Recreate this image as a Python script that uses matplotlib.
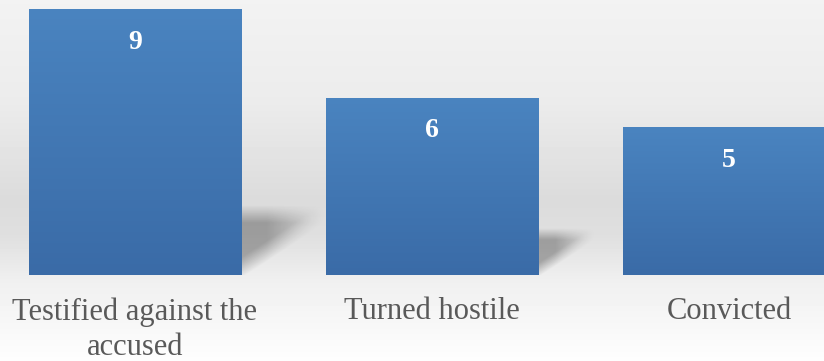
import numpy as np
import matplotlib
matplotlib.use('Agg')
import matplotlib.pyplot as plt
from matplotlib.colors import LinearSegmentedColormap

categories = ['Testified against the\naccused', 'Turned hostile', 'Convicted']
values = [9, 6, 5]

plt.rcParams['font.family'] = ['Liberation Serif', 'DejaVu Serif']

fig = plt.figure(figsize=(8.24, 3.61), dpi=100)

# background: soft grey gradient with a darker "horizon" band
bg = fig.add_axes([0, 0, 1, 1], zorder=0)
bg.axis('off')
stops_y = [0, 100, 200, 235, 280, 361]
stops_v = [0.95, 0.925, 0.86, 0.875, 0.94, 0.995]
col = np.interp(np.arange(361), stops_y, stops_v)
bg.imshow(np.repeat(col[:, None], 2, axis=1), cmap='gray', vmin=0, vmax=1,
          aspect='auto', extent=[0, 1, 0, 1], origin='upper')

ax = fig.add_axes([0, 86 / 361, 1, 275 / 361], zorder=1)
ax.patch.set_alpha(0)
x = np.arange(len(values))
width = 0.714

# soft perspective shadows to the right of each bar
for xi, v in zip(x, values):
    L = 0.032 * v
    H = 0.26 * v
    n = 160
    u = np.linspace(0, 1, n)[None, :]
    w = np.linspace(0, 1, n)[:, None]
    lower = np.clip((w - u * 0.8 + 0.05) / 0.3, 0, 1)
    upper = np.clip((1 - w) / 0.25, 0, 1)
    fade = np.clip((1 - u) / 0.7, 0, 1)
    a = lower * upper * fade * 0.3
    rgba = np.zeros((n, n, 4))
    rgba[..., 3] = a
    x0 = xi + width / 2
    ax.imshow(rgba, extent=[x0, x0 + L, 0, H], origin='lower', aspect='auto',
              zorder=1, interpolation='bilinear')

bar_cmap = LinearSegmentedColormap.from_list('barblue', ['#3a6ba7', '#4a84c0'])
bars = ax.bar(x, values, width=width, color='none', edgecolor='none', zorder=2)
grad = np.linspace(0, 1, 256)[:, None]
for b in bars:
    im = ax.imshow(grad, cmap=bar_cmap, origin='lower', aspect='auto',
                   extent=[b.get_x(), b.get_x() + b.get_width(), 0, b.get_height()],
                   zorder=2)
    im.set_clip_path(b)

for xi, v in zip(x, values):
    ax.annotate(str(v), (xi, v), xytext=(0, -24), textcoords='offset points',
                ha='center', va='center', color='white', fontsize=20,
                fontweight='bold', zorder=3)

ax.set_xlim(-0.4545, 2.32)
ax.set_ylim(0, 9.3)
ax.set_xticks(x)
ax.set_xticklabels(categories, color='#595959', fontsize=22, linespacing=1.3)
ax.tick_params(axis='x', length=0, pad=16)
ax.set_yticks([])
for s in ax.spines.values():
    s.set_visible(False)

fig.savefig('out.png', dpi=100)
